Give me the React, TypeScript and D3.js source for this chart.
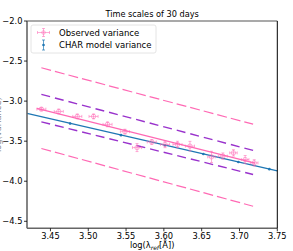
import { useEffect, useRef } from 'react'
import * as d3 from 'd3'

// observed variance (log wavelength, log variance)
const obsX = [3.438, 3.461, 3.4855, 3.507, 3.5255, 3.5485, 3.5645, 3.584, 3.6015, 3.618, 3.6345, 3.663, 3.678, 3.692, 3.7075, 3.7195]
const obsY = [-3.1, -3.129, -3.191, -3.191, -3.29, -3.381, -3.58, -3.51, -3.541, -3.541, -3.562, -3.696, -3.687, -3.646, -3.729, -3.771]
const obsXErr = [0.006, 0.006, 0.006, 0.006, 0.006, 0.006, 0.006, 0.006, 0.006, 0.006, 0.006, 0.005, 0.006, 0.005, 0.005, 0.005]
const obsYErr = [0.02, 0.03, 0.03, 0.03, 0.03, 0.03, 0.05, 0.03, 0.04, 0.04, 0.06, 0.07, 0.04, 0.04, 0.05, 0.04]

// CHAR model variance
const modelX = [3.476, 3.5433, 3.6015, 3.6522, 3.6985, 3.7395]
const modelY = [-3.279, -3.425, -3.55, -3.66, -3.76, -3.849]
const modelYErr = [0.01, 0.01, 0.01, 0.01, 0.01, 0.01]

// lines (endpoints in data space)
const modelLine: [number, number][] = [[3.419, -3.154], [3.75, -3.871]]
const obsFit: [number, number][] = [[3.432, -3.091], [3.7205, -3.775]]
const pinkUpper: [number, number][] = [[3.438, -2.584], [3.718, -3.288]]
const pinkLower: [number, number][] = [[3.438, -3.591], [3.718, -4.312]]
const purpleUpper: [number, number][] = [[3.438, -2.916], [3.718, -3.615]]
const purpleLower: [number, number][] = [[3.438, -3.259], [3.718, -3.916]]

const xTicks = [3.45, 3.5, 3.55, 3.6, 3.65, 3.7, 3.75]
const yTicks = [-2.0, -2.5, -3.0, -3.5, -4.0, -4.5]

const PINK = '#ff69b4'
const PURPLE = '#9932cc'
const BLUE = '#1f77b4'
const FONT = 'DejaVu Sans, sans-serif'

export default function App() {
  const svgRef = useRef<SVGSVGElement | null>(null)
  const width = 293
  const height = 251

  useEffect(() => {
    if (!svgRef.current) return
    const svg = d3.select(svgRef.current)
    svg.selectAll('*').remove()

    const x = d3.scaleLinear().domain([3.419, 3.75]).range([27, 277.3])
    const y = d3.scaleLinear().domain([-4.5875, -2.0]).range([228.3, 21])
    const [x0, x1] = x.range()
    const [y0, y1] = y.range()

    svg.append('rect').attr('width', width).attr('height', height).attr('fill', '#fff')

    const line = d3.line<[number, number]>().x(d => x(d[0])).y(d => y(d[1]))

    const plot = svg.append('g')

    const dashed = [
      { pts: pinkUpper, color: PINK, w: 1.2, dash: '10,4' },
      { pts: pinkLower, color: PINK, w: 1.2, dash: '10,4' },
      { pts: purpleUpper, color: PURPLE, w: 1.4, dash: '9,5' },
      { pts: purpleLower, color: PURPLE, w: 1.4, dash: '9,5' },
    ]
    dashed.forEach(l => {
      plot.append('path').attr('d', line(l.pts)).attr('fill', 'none')
        .attr('stroke', l.color).attr('stroke-width', l.w).attr('stroke-dasharray', l.dash)
    })

    // model line + points
    plot.append('path').attr('d', line(modelLine)).attr('fill', 'none')
      .attr('stroke', BLUE).attr('stroke-width', 1.3)
    modelX.forEach((mx, i) => {
      const cx = x(mx)
      plot.append('line').attr('x1', cx).attr('x2', cx)
        .attr('y1', y(modelY[i] - modelYErr[i])).attr('y2', y(modelY[i] + modelYErr[i]))
        .attr('stroke', BLUE).attr('stroke-width', 1)
      plot.append('circle').attr('cx', cx).attr('cy', y(modelY[i])).attr('r', 1.3).attr('fill', BLUE)
    })

    // observed fit
    plot.append('path').attr('d', line(obsFit)).attr('fill', 'none')
      .attr('stroke', PINK).attr('stroke-width', 1.2)

    // observed points with error bars
    const obs = plot.append('g').attr('stroke', PINK).attr('stroke-opacity', 0.6).attr('stroke-width', 0.9)
    obsX.forEach((ox, i) => {
      const cx = x(ox)
      const cy = y(obsY[i])
      const xl = x(ox - obsXErr[i])
      const xr = x(ox + obsXErr[i])
      const yt = y(obsY[i] + obsYErr[i])
      const yb = y(obsY[i] - obsYErr[i])
      obs.append('line').attr('x1', xl).attr('x2', xr).attr('y1', cy).attr('y2', cy)
      obs.append('line').attr('x1', cx).attr('x2', cx).attr('y1', yt).attr('y2', yb)
      ;[xl, xr].forEach(px => obs.append('line').attr('x1', px).attr('x2', px).attr('y1', cy - 1.5).attr('y2', cy + 1.5))
      ;[yt, yb].forEach(py => obs.append('line').attr('x1', cx - 1.5).attr('x2', cx + 1.5).attr('y1', py).attr('y2', py))
      obs.append('circle').attr('cx', cx).attr('cy', cy).attr('r', 2.2).attr('fill', 'none')
    })

    // spines
    svg.append('line').attr('x1', x0).attr('x2', x0).attr('y1', y1).attr('y2', y0).attr('stroke', '#666').attr('stroke-width', 1.6)
    svg.append('line').attr('x1', x0).attr('x2', x1).attr('y1', y0).attr('y2', y0).attr('stroke', '#666').attr('stroke-width', 1.6)
    svg.append('line').attr('x1', x0).attr('x2', x1).attr('y1', y1).attr('y2', y1).attr('stroke', '#555').attr('stroke-width', 1.2)
    svg.append('line').attr('x1', x1).attr('x2', x1).attr('y1', y1).attr('y2', y0).attr('stroke', '#000').attr('stroke-width', 1)

    const fmt = (v: number, d: number) => v.toFixed(d).replace('-', '\u2212')

    const xAxis = svg.append('g').attr('font-family', FONT).attr('font-size', 8.3)
    xTicks.forEach(t => {
      xAxis.append('line').attr('x1', x(t)).attr('x2', x(t)).attr('y1', y0).attr('y2', y0 + 3).attr('stroke', '#000').attr('stroke-width', 0.8)
      xAxis.append('text').attr('x', x(t)).attr('y', y0 + 11).attr('text-anchor', 'middle').text(fmt(t, 2))
    })
    const yAxis = svg.append('g').attr('font-family', FONT).attr('font-size', 8.3)
    yTicks.forEach(t => {
      yAxis.append('line').attr('x1', x0 - 3).attr('x2', x0).attr('y1', y(t)).attr('y2', y(t)).attr('stroke', '#000').attr('stroke-width', 0.8)
      yAxis.append('text').attr('x', x0 - 4.5).attr('y', y(t) + 3).attr('text-anchor', 'end').text(fmt(t, 1))
    })

    // axis labels and title
    const xl = svg.append('text').attr('x', (x0 + x1) / 2).attr('y', 248).attr('text-anchor', 'middle')
      .attr('font-family', FONT).attr('font-size', 8.3)
    xl.append('tspan').text('log(λ')
    xl.append('tspan').attr('font-size', 6).attr('dy', 2).attr('font-style', 'italic').text('ref')
    xl.append('tspan').attr('dy', -2).text('[Å])')

    // y label sits mostly outside the figure, as in the original
    svg.append('text').attr('transform', `translate(1,${(y0 + y1) / 2}) rotate(-90)`)
      .attr('text-anchor', 'middle').attr('font-family', FONT).attr('font-size', 8.3).attr('fill', '#888')
      .text('log(variance)')

    svg.append('text').attr('x', (x0 + x1) / 2).attr('y', 17).attr('text-anchor', 'middle')
      .attr('font-family', FONT).attr('font-size', 8.2).text('Time scales of 30 days')

    // legend
    const lg = svg.append('g')
    lg.append('rect').attr('x', 31).attr('y', 25).attr('width', 125).attr('height', 28).attr('rx', 2)
      .attr('fill', '#fff').attr('fill-opacity', 0.8).attr('stroke', '#ddd').attr('stroke-width', 0.8)
    const lx = 43.5
    const ly1 = 32.5
    const ly2 = 45
    const lo = lg.append('g').attr('stroke', PINK).attr('stroke-opacity', 0.6).attr('stroke-width', 0.9)
    lo.append('line').attr('x1', lx - 6).attr('x2', lx + 6).attr('y1', ly1).attr('y2', ly1)
    lo.append('line').attr('x1', lx).attr('x2', lx).attr('y1', ly1 - 4).attr('y2', ly1 + 4)
    ;[lx - 6, lx + 6].forEach(px => lo.append('line').attr('x1', px).attr('x2', px).attr('y1', ly1 - 1.5).attr('y2', ly1 + 1.5))
    ;[ly1 - 4, ly1 + 4].forEach(py => lo.append('line').attr('x1', lx - 1.5).attr('x2', lx + 1.5).attr('y1', py).attr('y2', py))
    lo.append('circle').attr('cx', lx).attr('cy', ly1).attr('r', 1.8).attr('fill', 'none')
    lg.append('line').attr('x1', lx).attr('x2', lx).attr('y1', ly2 - 5).attr('y2', ly2 + 5).attr('stroke', BLUE).attr('stroke-width', 1).attr('stroke-opacity', 0.7)
    ;[ly2 - 5, ly2 + 5].forEach(py => lg.append('line').attr('x1', lx - 1.5).attr('x2', lx + 1.5).attr('y1', py).attr('y2', py).attr('stroke', BLUE).attr('stroke-width', 1).attr('stroke-opacity', 0.7))
    lg.append('circle').attr('cx', lx).attr('cy', ly2).attr('r', 1.3).attr('fill', BLUE)
    lg.append('text').attr('x', 59).attr('y', ly1 + 3).attr('font-family', FONT).attr('font-size', 8.5).text('Observed variance')
    lg.append('text').attr('x', 59).attr('y', ly2 + 3).attr('font-family', FONT).attr('font-size', 8.5).text('CHAR model variance')
  }, [])

  return (
    <svg ref={svgRef} width={width} height={height} style={{ position: 'absolute', left: 0, top: 0 }} />
  )
}
